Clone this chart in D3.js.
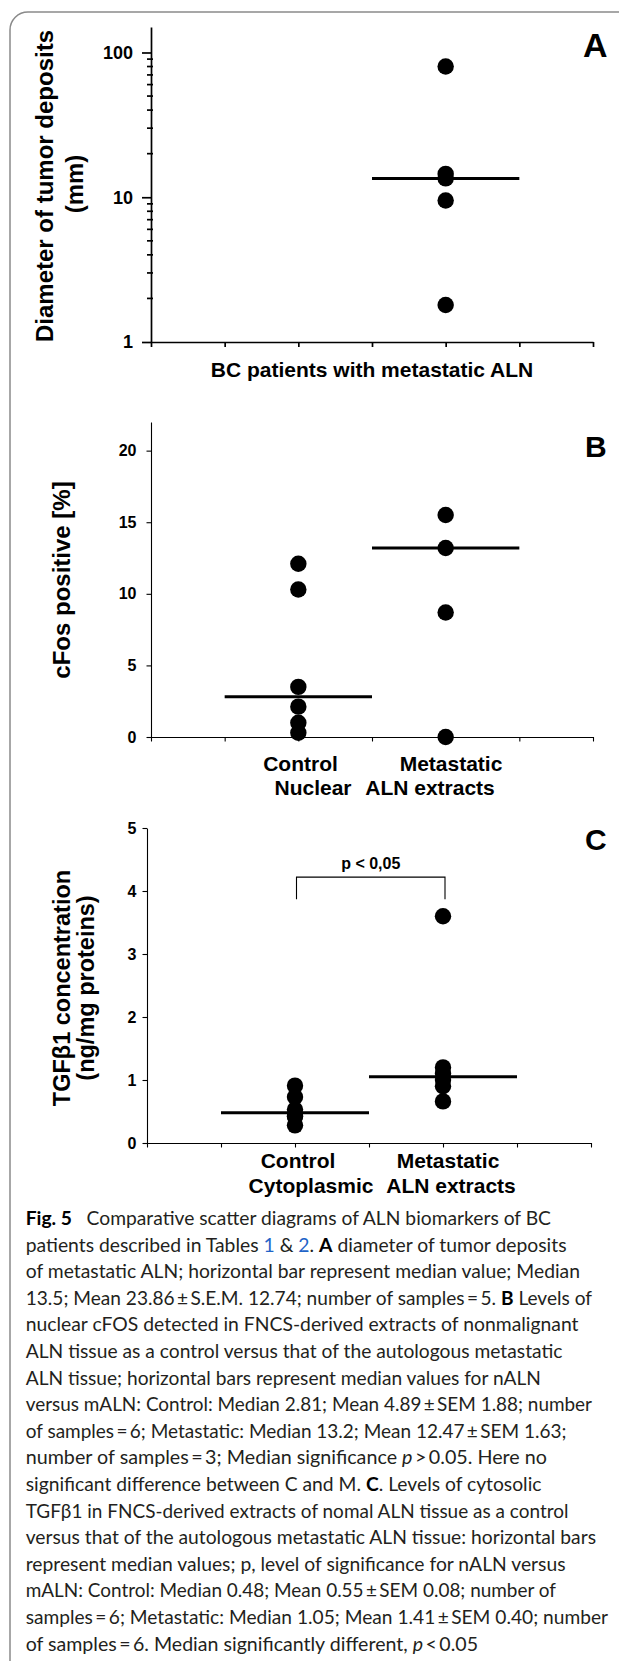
<!DOCTYPE html>
<html><head><meta charset="utf-8">
<script src="https://cdn.jsdelivr.net/npm/d3@7"></script>
<style>
html,body{margin:0;padding:0;background:#fff;}
svg{display:block;}
</style></head><body>
<svg id="fig" width="619" height="1661"></svg>
<script>
// ---------- DATA ----------
// Panel A: diameter of tumor deposits (mm), log scale
const diameterValues = [80, 14.5, 13.5, 9.5, 1.8];
const diameterMedian = 13.5;
const diameterTicks = [1, 10, 100];
const diameterSlot = 4;

// Panel B: cFos positive [%]
const cfosControl = [12.1, 10.3, 3.5, 2.12, 1.0, 0.3];
const cfosMetastatic = [15.5, 13.2, 8.7, 0];
const cfosMedians = [2.81, 13.2];
const cfosTicks = [0, 5, 10, 15, 20];

// Panel C: TGFb1 concentration (ng/mg proteins)
const tgfControl = [0.91, 0.73, 0.53, 0.43, 0.42, 0.28];
const tgfMetastatic = [3.6, 1.2, 1.1, 1.0, 0.9, 0.66];
const tgfMedians = [0.48, 1.05];
const tgfTicks = [0, 1, 2, 3, 4, 5];
const tgfBracket = [4.22, 3.87]; // top, leg end (data units)

const groupSlots = [2, 4];        // positions of Control / Metastatic on 0..6 slot axis
const slotTicks = [0, 1, 2, 3, 4, 5, 6];

// ---------- DRAW ----------
const svg = d3.select("#fig");
const FONT = "'Liberation Sans', Arial, Helvetica, sans-serif";

// frame
svg.append("rect").attr("x", 10).attr("y", 12).attr("width", 760).attr("height", 1760)
  .attr("rx", 18).attr("fill", "none").attr("stroke", "#8a8a8a").attr("stroke-width", 1.5);

function styleAxis(ax, sw, fs) {
  ax.attr("font-family", FONT);
  ax.select(".domain").attr("stroke", "#000").attr("stroke-width", sw);
  ax.selectAll(".tick line").attr("stroke", "#000").attr("stroke-width", sw);
  ax.selectAll(".tick text").attr("font-size", fs).attr("font-weight", "bold").attr("fill", "#000");
}
function txt(g, x, y, s, fs, anchor) {
  return g.append("text").attr("x", x).attr("y", y).attr("font-family", FONT)
    .attr("font-weight", "bold").attr("font-size", fs).attr("text-anchor", anchor || "middle")
    .attr("fill", "#000").text(s);
}
function ytitle(g, x, y, s, fs) {
  g.append("text").attr("transform", `translate(${x},${y}) rotate(-90)`)
    .attr("font-family", FONT).attr("font-weight", "bold").attr("font-size", fs)
    .attr("text-anchor", "middle").attr("fill", "#000").text(s);
}
function dots(g, x, y, slot, vals) {
  g.append("g").selectAll("circle").data(vals).join("circle")
    .attr("cx", x(slot)).attr("cy", d => y(d)).attr("r", 8.2).attr("fill", "#000");
}
function median(g, x, y, slot, v) {
  g.append("line").attr("x1", x(slot - 1)).attr("x2", x(slot + 1))
    .attr("y1", y(v)).attr("y2", y(v)).attr("stroke", "#000").attr("stroke-width", 3);
}

// ----- Panel A -----
const xA = d3.scaleLinear().domain([0, 6]).range([151, 593]);
const yA = d3.scaleLog().domain([1, 150]).range([342, 27]);
const gA = svg.append("g");
const yAxA = gA.append("g").attr("transform", `translate(${xA(0)},0)`)
  .call(d3.axisLeft(yA).tickValues(diameterTicks).tickFormat(d3.format("d"))
    .tickSize(9).tickSizeOuter(0).tickPadding(9));
styleAxis(yAxA, 1.7, 18);
const minorA = [1, 10].flatMap(d => d3.range(2, 10).map(k => k * d)).filter(v => v <= 150);
gA.append("g").selectAll("line").data(minorA).join("line")
  .attr("x1", xA(0) - 4).attr("x2", xA(0) + 2).attr("y1", d => yA(d)).attr("y2", d => yA(d))
  .attr("stroke", "#000").attr("stroke-width", 1.7);
const xAxA = gA.append("g").attr("transform", `translate(0,${yA(1)})`)
  .call(d3.axisBottom(xA).tickValues(slotTicks).tickFormat("").tickSize(5).tickSizeOuter(0));
styleAxis(xAxA, 1.7, 18);
median(gA, xA, yA, diameterSlot, diameterMedian);
dots(gA, xA, yA, diameterSlot, diameterValues);
txt(gA, xA(3), 377, "BC patients with metastatic ALN", 21);
ytitle(gA, 53, 186, "Diameter of tumor deposits", 24);
ytitle(gA, 82.5, 184, "(mm)", 24);
txt(gA, 583, 57, "A", 34, "start");

// ----- Panel B -----
const xB = d3.scaleLinear().domain([0, 6]).range([151, 593]);
const yB = d3.scaleLinear().domain([0, 22]).range([737, 422]);
const gB = svg.append("g");
const yAxB = gB.append("g").attr("transform", `translate(${xB(0)},0)`)
  .call(d3.axisLeft(yB).tickValues(cfosTicks).tickFormat(d3.format("d"))
    .tickSize(4.5).tickSizeOuter(0).tickPadding(10));
styleAxis(yAxB, 1.1, 16);
const xAxB = gB.append("g").attr("transform", `translate(0,${yB(0)})`)
  .call(d3.axisBottom(xB).tickValues(slotTicks).tickFormat("").tickSize(4.5).tickSizeOuter(0));
styleAxis(xAxB, 1.1, 16);
median(gB, xB, yB, groupSlots[0], cfosMedians[0]);
median(gB, xB, yB, groupSlots[1], cfosMedians[1]);
dots(gB, xB, yB, groupSlots[0], cfosControl);
dots(gB, xB, yB, groupSlots[1], cfosMetastatic);
txt(gB, 300.5, 770.5, "Control", 21);
txt(gB, 451, 770.5, "Metastatic", 21);
txt(gB, 313, 795, "Nuclear", 21);
txt(gB, 430, 795, "ALN extracts", 21);
ytitle(gB, 70, 580, "cFos positive [%]", 24);
txt(gB, 585, 456.5, "B", 30, "start");

// ----- Panel C -----
const xC = d3.scaleLinear().domain([0, 6]).range([147, 591]);
const yC = d3.scaleLinear().domain([0, 5]).range([1143, 828]);
const gC = svg.append("g");
const yAxC = gC.append("g").attr("transform", `translate(${xC(0)},0)`)
  .call(d3.axisLeft(yC).tickValues(tgfTicks).tickFormat(d3.format("d"))
    .tickSize(4.5).tickSizeOuter(0).tickPadding(6));
styleAxis(yAxC, 1.1, 16);
const xAxC = gC.append("g").attr("transform", `translate(0,${yC(0)})`)
  .call(d3.axisBottom(xC).tickValues(slotTicks).tickFormat("").tickSize(4.5).tickSizeOuter(0));
styleAxis(xAxC, 1.1, 16);
median(gC, xC, yC, groupSlots[0], tgfMedians[0]);
median(gC, xC, yC, groupSlots[1], tgfMedians[1]);
dots(gC, xC, yC, groupSlots[0], tgfControl);
dots(gC, xC, yC, groupSlots[1], tgfMetastatic);
// significance bracket
const bx0 = xC(groupSlots[0]) + 1.5, bx1 = xC(groupSlots[1]) + 2;
gC.append("path")
  .attr("d", `M${bx0},${yC(tgfBracket[1])}V${yC(tgfBracket[0])}H${bx1}V${yC(tgfBracket[1])}`)
  .attr("fill", "none").attr("stroke", "#000").attr("stroke-width", 1.1);
txt(gC, (bx0 + bx1) / 2, yC(tgfBracket[0]) - 8, "p < 0,05", 16);
txt(gC, 298, 1168, "Control", 21);
txt(gC, 448, 1168, "Metastatic", 21);
txt(gC, 311, 1193, "Cytoplasmic", 21);
txt(gC, 451, 1193, "ALN extracts", 21);
ytitle(gC, 70, 988, "TGF\u03b21 concentration", 23.5);
ytitle(gC, 93.5, 988, "(ng/mg proteins)", 23.5);
txt(gC, 585, 850, "C", 30, "start");

// ----- Caption -----
const T = "\u2009";
const captionLines = [
  [["Fig. 5", "b"], ["\u2002 Comparative scatter diagrams of ALN biomarkers of BC", ""]],
  [["patients described in Tables ", ""], ["1", "l"], [" & ", ""], ["2", "l"], [". ", ""], ["A", "b"], [" diameter of tumor deposits", ""]],
  [["of metastatic ALN; horizontal bar represent median value; Median", ""]],
  [["13.5; Mean 23.86" + T + "\u00b1" + T + "S.E.M. 12.74; number of samples" + T + "=" + T + "5. ", ""], ["B", "b"], [" Levels of", ""]],
  [["nuclear cFOS detected in FNCS-derived extracts of nonmalignant", ""]],
  [["ALN tissue as a control versus that of the autologous metastatic", ""]],
  [["ALN tissue; horizontal bars represent median values for nALN", ""]],
  [["versus mALN: Control: Median 2.81; Mean 4.89" + T + "\u00b1" + T + "SEM 1.88; number", ""]],
  [["of samples" + T + "=" + T + "6; Metastatic: Median 13.2; Mean 12.47" + T + "\u00b1" + T + "SEM 1.63;", ""]],
  [["number of samples" + T + "=" + T + "3; Median significance ", ""], ["p", "i"], [T + ">" + T + "0.05. Here no", ""]],
  [["significant difference between C and M. ", ""], ["C", "b"], [". Levels of cytosolic", ""]],
  [["TGF\u03b21 in FNCS-derived extracts of nomal ALN tissue as a control", ""]],
  [["versus that of the autologous metastatic ALN tissue: horizontal bars", ""]],
  [["represent median values; p, level of significance for nALN versus", ""]],
  [["mALN: Control: Median 0.48; Mean 0.55" + T + "\u00b1" + T + "SEM 0.08; number of", ""]],
  [["samples" + T + "=" + T + "6; Metastatic: Median 1.05; Mean 1.41" + T + "\u00b1" + T + "SEM 0.40; number", ""]],
  [["of samples" + T + "=" + T + "6. Median significantly different, ", ""], ["p", "i"], [T + "<" + T + "0.05", ""]]
];
const captionRight = [551, 566.5, 580, 592, 578.5, 562.5, 541, 592, 566.5, 547, 541.5, 568.5, 596, 565.5, 556, 608, 478];
const capX = 25.7, capY0 = 1225, capDY = 26.6;
const gCap = svg.append("g");
captionLines.forEach((segs, i) => {
  const t = gCap.append("text").attr("x", capX).attr("y", capY0 + i * capDY)
    .attr("font-family", "Lato, 'Open Sans', sans-serif").attr("font-size", 19)
    .attr("fill", "#231f20").style("white-space", "pre")
    .attr("textLength", captionRight[i] - capX).attr("lengthAdjust", "spacingAndGlyphs");
  segs.forEach(([s, st]) => {
    const ts = t.append("tspan").text(s);
    if (st === "b") ts.attr("font-weight", "bold").attr("fill", "#000");
    if (st === "i") ts.attr("font-style", "italic");
    if (st === "l") ts.attr("fill", "#1f64c8");
  });
});
</script>
</body></html>
